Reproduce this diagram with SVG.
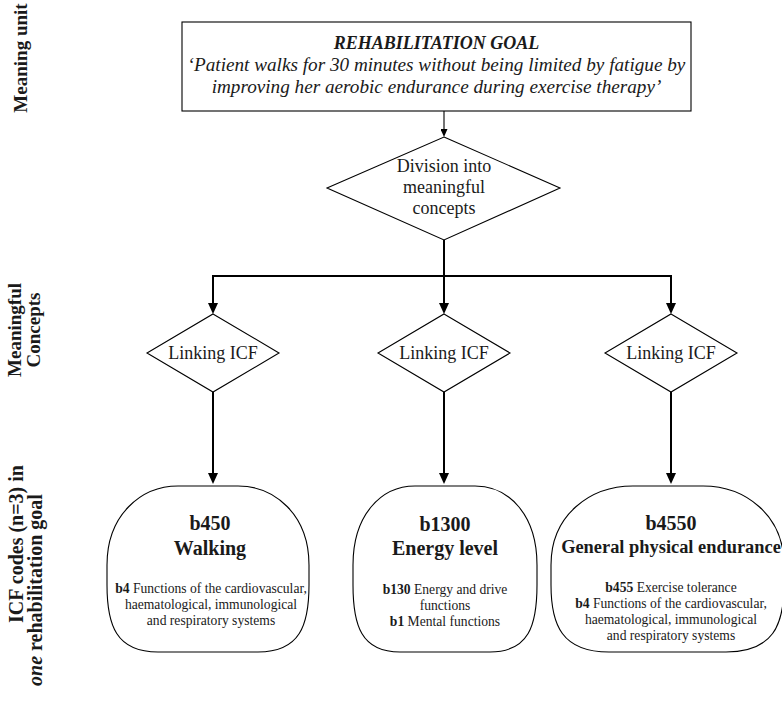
<svg xmlns="http://www.w3.org/2000/svg" width="782" height="702" viewBox="0 0 782 702">
<style>
  .shape { fill: #ffffff; stroke: #000000; stroke-width: 1.1; }
  .conn { fill: none; stroke: #000000; stroke-width: 2; }
  .thin { fill: none; stroke: #000000; stroke-width: 1.1; }
  text { font-family: "Liberation Serif", "Times New Roman", serif; fill: #1a1a1a; }
  .side { font-size: 19px; font-weight: bold; text-anchor: middle; }
  .title { font-size: 18px; font-weight: bold; font-style: italic; text-anchor: middle; }
  .goal { font-size: 19.2px; font-style: italic; text-anchor: middle; }
  .dia { font-size: 18px; text-anchor: middle; }
  .code { font-size: 20px; font-weight: bold; text-anchor: middle; }
  .sub { font-size: 13.6px; text-anchor: middle; }
  .b { font-weight: bold; }
</style>
<defs>
  <marker id="arrowBig" viewBox="0 0 11 10" refX="0" refY="5" markerWidth="11" markerHeight="10" markerUnits="userSpaceOnUse" orient="auto">
    <path d="M0,0 L11,5 L0,10 z" fill="#000"/>
  </marker>
  <marker id="arrowSmall" viewBox="0 0 8 7" refX="0" refY="3.5" markerWidth="8" markerHeight="7" markerUnits="userSpaceOnUse" orient="auto">
    <path d="M0,0 L8,3.5 L0,7 z" fill="#000"/>
  </marker>
</defs>

<g id="side-labels">
  <text class="side" transform="translate(27,58) rotate(-90)" font-size="18">Meaning unit</text>
  <text class="side" transform="translate(21,330) rotate(-90)">Meaningful</text>
  <text class="side" transform="translate(40,330) rotate(-90)">Concepts</text>
  <text class="side" transform="translate(23,544) rotate(-90)" style="font-size:20px">ICF codes (n=3) in</text>
  <text class="side" transform="translate(42,590) rotate(-90)" style="font-size:20px"><tspan font-style="italic">one</tspan> rehabilitation goal</text>
</g>

<g id="connectors">
  <line class="thin" x1="444" y1="111" x2="444" y2="129" marker-end="url(#arrowSmall)"/>
  <polyline class="conn" points="444,240 444,276"/>
  <polyline class="conn" points="213,303 213,276 671,276 671,303"/>
  <line class="conn" x1="213" y1="276" x2="213" y2="303" marker-end="url(#arrowBig)"/>
  <line class="conn" x1="444" y1="276" x2="444" y2="303" marker-end="url(#arrowBig)"/>
  <line class="conn" x1="671" y1="276" x2="671" y2="303" marker-end="url(#arrowBig)"/>
  <line class="conn" x1="213" y1="392" x2="213" y2="473" marker-end="url(#arrowBig)"/>
  <line class="conn" x1="444" y1="392" x2="444" y2="473" marker-end="url(#arrowBig)"/>
  <line class="conn" x1="671" y1="392" x2="671" y2="473" marker-end="url(#arrowBig)"/>
</g>

<g id="goal">
  <rect class="shape" x="182" y="22" width="509" height="89" stroke-width="1.4"/>
  <text class="title" x="436.5" y="49">REHABILITATION GOAL</text>
  <text class="goal" x="436.5" y="71">‘Patient walks for 30 minutes without being limited by fatigue by</text>
  <text class="goal" x="436.5" y="93">improving her aerobic endurance during exercise therapy’</text>
</g>

<g id="division">
  <polygon class="shape" points="444,137 560,188 444,240 327,188"/>
  <text class="dia" x="444" y="172">Division into</text>
  <text class="dia" x="444" y="193">meaningful</text>
  <text class="dia" x="444" y="214">concepts</text>
</g>

<g id="link1">
  <polygon class="shape" points="213,314 279,353 213,392 147,353"/>
  <text class="dia" x="213" y="359">Linking ICF</text>
</g>
<g id="link2">
  <polygon class="shape" points="444,314 510,353 444,392 378,353"/>
  <text class="dia" x="444" y="359">Linking ICF</text>
</g>
<g id="link3">
  <polygon class="shape" points="671,314 737,353 671,392 605,353"/>
  <text class="dia" x="671" y="359">Linking ICF</text>
</g>

<g id="code-b450">
  <path class="shape" d="M178,486 L238,486 C275,486 309,515 309,565 L309,585 C309,625 300,652 258,652 L158,652 C116,652 107,625 107,585 L107,565 C107,515 141,486 178,486 Z"/>
  <text class="code" x="210" y="530">b450</text>
  <text class="code" x="210" y="555">Walking</text>
  <text class="sub" x="211" y="593"><tspan class="b">b4</tspan> Functions of the cardiovascular,</text>
  <text class="sub" x="211" y="609">haematological, immunological</text>
  <text class="sub" x="211" y="625">and respiratory systems</text>
</g>

<g id="code-b1300">
  <path class="shape" d="M415,486 L475,486 C509,486 537,515 537,565 L537,585 C537,625 529,652 490,652 L400,652 C361,652 353,625 353,585 L353,565 C353,515 381,486 415,486 Z"/>
  <text class="code" x="445" y="531">b1300</text>
  <text class="code" x="445" y="555">Energy level</text>
  <text class="sub" x="445" y="594"><tspan class="b">b130</tspan> Energy and drive</text>
  <text class="sub" x="445" y="610">functions</text>
  <text class="sub" x="445" y="626"><tspan class="b">b1</tspan> Mental functions</text>
</g>

<g id="code-b4550">
  <path class="shape" d="M633,486 L703,486 C745,486 784,515 784,565 L784,585 C784,625 773,652 726,652 L609,652 C562,652 551,625 551,585 L551,565 C551,515 590,486 633,486 Z"/>
  <text class="code" x="671" y="530">b4550</text>
  <text class="code" x="671" y="553" style="font-size:18.4px">General physical endurance</text>
  <text class="sub" x="671" y="592"><tspan class="b">b455</tspan> Exercise tolerance</text>
  <text class="sub" x="671" y="608"><tspan class="b">b4</tspan> Functions of the cardiovascular,</text>
  <text class="sub" x="671" y="624">haematological, immunological</text>
  <text class="sub" x="671" y="640">and respiratory systems</text>
</g>
</svg>
